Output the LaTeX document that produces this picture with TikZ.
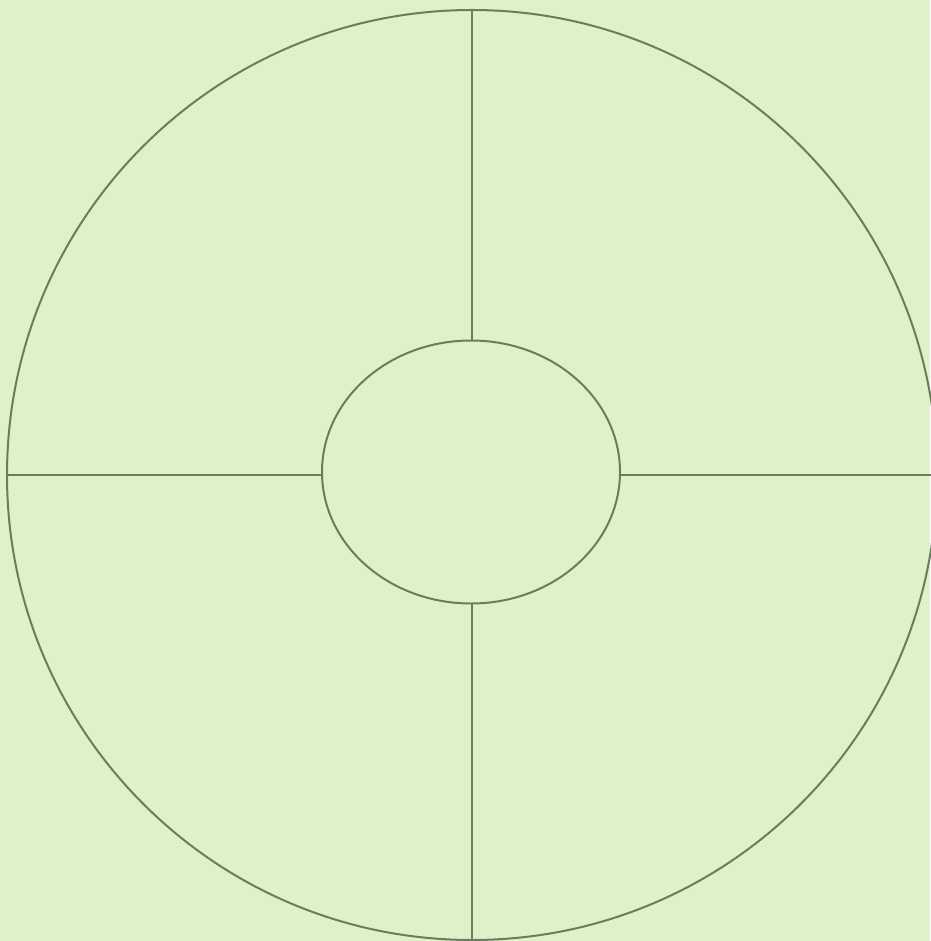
\documentclass[tikz,border=0pt]{standalone}
\usepackage{tikz}
\usetikzlibrary{shapes.geometric}

\definecolor{bgleaf}{RGB}{221,242,201}
\definecolor{rimline}{RGB}{104,126,92}

\begin{document}
\begin{tikzpicture}[
  x=1pt, y=-1pt,
  rim/.style={draw=rimline, line width=2pt, inner sep=0pt, outer sep=0pt},
  spoke/.style={draw=rimline, line width=2pt},
]
\fill[bgleaf] (0,0) rectangle (930,941);
\useasboundingbox (0,0) rectangle (930,941);

\node[rim, circle, minimum size=930pt] (outer) at (472,475) {};
\node[rim, ellipse, minimum width=298pt, minimum height=263pt] (hub) at (471,472) {};

\draw[spoke] (outer.center |- hub.north) -- (outer.north);
\draw[spoke] (outer.center |- hub.south) -- (outer.south);
\draw[spoke] (hub.west |- outer.center) -- (outer.west);
\draw[spoke] (hub.east |- outer.center) -- (outer.east);
\end{tikzpicture}
\end{document}
